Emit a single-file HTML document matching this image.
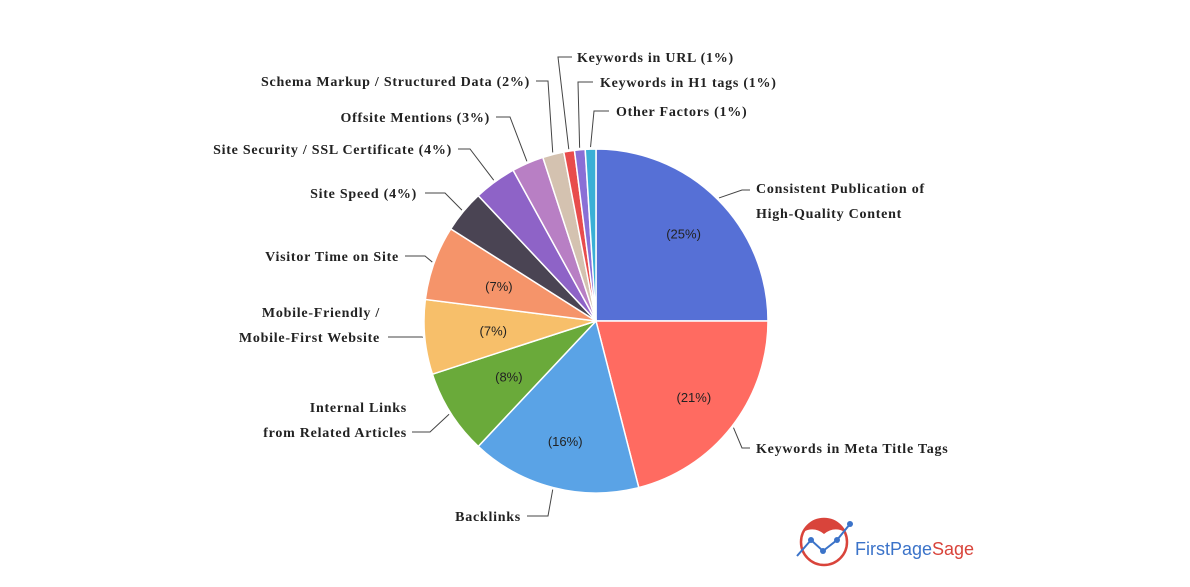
<!DOCTYPE html>
<html><head><meta charset="utf-8"><style>
body{margin:0;background:#fff;}
svg text{font-family:"Liberation Serif",serif;font-weight:bold;fill:#222;font-size:14px;letter-spacing:0.75px;}
</style></head><body>
<svg width="1190" height="582" viewBox="0 0 1190 582" xmlns="http://www.w3.org/2000/svg">
<g id="slices"></g><g id="leaders"></g><g id="labels"></g>
<g>
<circle cx="824" cy="542" r="23" fill="none" stroke="#d9443b" stroke-width="2.5"/>
<path d="M803 532 Q810 517 824 519 Q838 517 845 532 Q834 526 824 534 Q814 526 803 532Z" fill="#d9443b"/>
<polyline points="797,556 811,540 823,551 837,540 850,524" fill="none" stroke="#3b73c9" stroke-width="2"/>
<circle cx="811" cy="540" r="3" fill="#3b73c9"/><circle cx="823" cy="551" r="3" fill="#3b73c9"/><circle cx="837" cy="540" r="3" fill="#3b73c9"/><circle cx="850" cy="524" r="3" fill="#3b73c9"/>
<text x="855" y="555" style="font-family:'Liberation Sans',sans-serif;font-weight:normal;font-size:18px;letter-spacing:0;fill:#3b73c9">FirstPage<tspan style="fill:#d9443b">Sage</tspan></text>
</g>
</svg>
<script>
const categories=["Consistent Publication of|High-Quality Content","Keywords in Meta Title Tags","Backlinks","Internal Links|from Related Articles","Mobile-Friendly /|Mobile-First Website","Visitor Time on Site","Site Speed (4%)","Site Security / SSL Certificate (4%)","Offsite Mentions (3%)","Schema Markup / Structured Data (2%)","Keywords in URL (1%)","Keywords in H1 tags (1%)","Other Factors (1%)"];
const values=[25,21,16,8,7,7,4,4,3,2,1,1,1];
const colors=["#5670d6","#ff6b61","#5aa3e6","#6aaa3a","#f7bf6a","#f5946a","#4a4453","#8e63c7","#b87fc4","#d4c2b0","#e84c4c","#8a6fd6","#3ab0d6"];
// label layout: [elbowX, lineY, lineEndX, textX, anchor, firstTextY]
const layout=[[742,190,750,756,"start",193],[742,448,750,756,"start",453],[548,516,527,521,"end",521],[430,432,412,407,"end",412],[422,337,388,380,"end",317],[425,256,405,399,"end",261],[445,193,425,417,"end",198],[470,149,458,452,"end",154],[510,117,496,490,"end",122],[548,81,536,530,"end",86],[558,57,572,577,"start",62],[578,82,593,600,"start",87],[594,111,609,616,"start",116]];
const cx=596,cy=321,R=172;
const ns="http://www.w3.org/2000/svg";
const total=values.reduce((a,b)=>a+b,0);
function pt(a,r){return [cx+r*Math.cos(a),cy+r*Math.sin(a)];}
let a0=-Math.PI/2;
const gS=document.getElementById('slices'),gL=document.getElementById('leaders'),gT=document.getElementById('labels');
values.forEach((v,i)=>{
  const a1=a0+v/total*2*Math.PI;
  const p0=pt(a0,R),p1=pt(a1,R);
  const large=(a1-a0)>Math.PI?1:0;
  const p=document.createElementNS(ns,'path');
  p.setAttribute('d',`M${cx},${cy}L${p0[0]},${p0[1]}A${R},${R} 0 ${large} 1 ${p1[0]},${p1[1]}Z`);
  p.setAttribute('fill',colors[i]);p.setAttribute('stroke','#fff');p.setAttribute('stroke-width','1.5');
  
  
  gS.appendChild(p);
  const am=(a0+a1)/2;
  if(v>=7){
    const q=pt(am,R*(v>=16?0.72:0.6));
    const t=document.createElementNS(ns,'text');
    t.setAttribute('x',q[0]);t.setAttribute('y',q[1]+5);t.setAttribute('text-anchor','middle');
    t.setAttribute('style','font-family:"Liberation Sans",sans-serif;font-weight:normal;font-size:13px;letter-spacing:0');
    t.textContent='('+v+'%)';
    
    
    gT.appendChild(t);
  }
  const L=layout[i];const e=pt(am,R+2);
  const pl=document.createElementNS(ns,'polyline');
  pl.setAttribute('points',`${e[0]},${e[1]} ${L[0]},${L[1]} ${L[2]},${L[1]}`);
  pl.setAttribute('fill','none');pl.setAttribute('stroke','#444');pl.setAttribute('stroke-width','1');
  
  
  gL.appendChild(pl);
  categories[i].split('|').forEach((s,k)=>{
    const t=document.createElementNS(ns,'text');
    t.setAttribute('x',L[3]);t.setAttribute('y',L[5]+k*25);t.setAttribute('text-anchor',L[4]);
    t.textContent=s;
    
    
    gT.appendChild(t);
  });
  a0=a1;
});
</script>
</body></html>
